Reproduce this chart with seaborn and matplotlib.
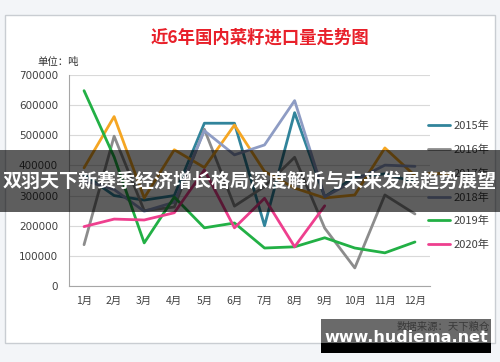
import numpy as np
import pandas as pd
import matplotlib
matplotlib.use("Agg")
import matplotlib.pyplot as plt
from matplotlib.patches import Rectangle
import seaborn as sns

months = ["1月", "2月", "3月", "4月", "5月", "6月", "7月", "8月", "9月", "10月", "11月", "12月"]
years = ["2015年", "2016年", "2017年", "2018年", "2019年", "2020年"]

y2015 = [370000, 300000, 285000, 300000, 540000, 540000, 200000, 575000, 296000, 362000, 372000, 345000]
y2016 = [137000, 497000, 250000, 262000, 520000, 265000, 330000, 427000, 192000, 60000, 302000, 239000]
y2017 = [392000, 562000, 292000, 452000, 393000, 534000, 380000, 325000, 292000, 302000, 458000, 366000]
y2018 = [350000, 320000, 248000, 278000, 515000, 435000, 468000, 615000, 296000, 350000, 401000, 397000]
y2019 = [648000, 428000, 143000, 295000, 193000, 209000, 126000, 130000, 160000, 126000, 110000, 146000]
y2020 = [197000, 222000, 219000, 243000, 385000, 193000, 291000, 130000, 266000]

colors = ["#31849b", "#8c8c8c", "#f5a623", "#8e9cc4", "#22b045", "#ee3f8e"]

series = [y2015, y2016, y2017, y2018, y2019, y2020]
rows = []
for yr, vals in zip(years, series):
    for i, v in enumerate(vals):
        rows.append({"month": i, "value": v, "year": yr})
df = pd.DataFrame(rows)

sns.set_theme(style="white")
plt.rcParams["font.family"] = ["Noto Sans CJK SC", "DejaVu Sans"]

W, H = 500, 362
fig = plt.figure(figsize=(5, 3.62), dpi=100, facecolor="#f3f5f8")

# white card
fig.patches.append(Rectangle((5 / W, 1 - 343 / H), 490 / W, 328 / H, transform=fig.transFigure,
                             facecolor="white", edgecolor="#c9cdd2", lw=1.0, zorder=-1))

ax = fig.add_axes([69 / W, 1 - 286 / H, 361 / W, 211 / H])
ax.set_facecolor("none")
sns.lineplot(data=df, x="month", y="value", hue="year", palette=dict(zip(years, colors)),
             linewidth=2, ax=ax, sort=False, legend=True)

ax.set_xlim(-0.5, 11.5)
ax.set_ylim(0, 700000)
ax.set_yticks(np.arange(0, 700001, 100000))
ax.set_yticklabels([str(v) for v in range(0, 700001, 100000)], fontsize=7.5, color="#404040",
                   family=["DejaVu Sans"])
ax.set_xticks(range(12))
ax.set_xticklabels(months, fontsize=7.5, color="#404040")
ax.set_xticks(np.arange(-0.5, 12, 1), minor=True)
ax.tick_params(axis="x", which="major", length=0, pad=7)
ax.tick_params(axis="x", which="minor", length=3, color="#a6a6a6", direction="out")
ax.tick_params(axis="y", length=0, pad=8)
ax.yaxis.grid(True, color="#d9d9d9", lw=0.8)
ax.set_axisbelow(True)
ax.set_xlabel("")
ax.set_ylabel("")
for s in ["top", "right"]:
    ax.spines[s].set_visible(False)
for s in ["left", "bottom"]:
    ax.spines[s].set_color("#a6a6a6")
    ax.spines[s].set_linewidth(0.8)

leg = ax.legend(loc="upper left", bbox_to_anchor=(428 / W, 1 - 121 / H),
                bbox_transform=fig.transFigure, frameon=False, fontsize=8,
                handlelength=2.0, handletextpad=0.3, labelspacing=1.2,
                borderpad=0, borderaxespad=0)
for t in leg.get_texts():
    t.set_color("#404040")

fig.text(260 / W, 1 - 38 / H, "近6年国内菜籽进口量走势图", ha="center", va="center",
         fontsize=12.5, color="#e8202a", fontweight="bold")
fig.text(37 / W, 1 - 62 / H, "单位：吨", ha="left", va="center", fontsize=7.5, color="#333333")
fig.text(490 / W, 1 - 327 / H, "数据来源：天下粮仓", ha="right", va="center", fontsize=7.5,
         color="#555555", style="italic")

# overlay banner
fig.patches.append(Rectangle((0, 1 - 212 / H), 1, 62 / H, transform=fig.transFigure,
                             facecolor="black", alpha=0.63, lw=0, zorder=10))
fig.text(250 / W, 1 - 181 / H, "双羽天下新赛季经济增长格局深度解析与未来发展趋势展望",
         ha="center", va="center", fontsize=13.7, color="white", fontweight="bold", zorder=11)

# site watermark
fig.patches.append(Rectangle((321 / W, 1 - 343 / H), 170 / W, 24 / H, transform=fig.transFigure,
                             facecolor="#303030", alpha=0.72, lw=0, zorder=10))
fig.patches.append(Rectangle((321 / W, 1 - 353 / H), 170 / W, 10 / H, transform=fig.transFigure,
                             facecolor="black", lw=0, zorder=10))
fig.text(406 / W, 1 - 337 / H, "www.hudiema.net", ha="center", va="center", fontsize=11.5,
         color="white", fontweight="bold", family=["DejaVu Sans"], zorder=11)

fig.savefig("out.png", dpi=100, facecolor=fig.get_facecolor())
